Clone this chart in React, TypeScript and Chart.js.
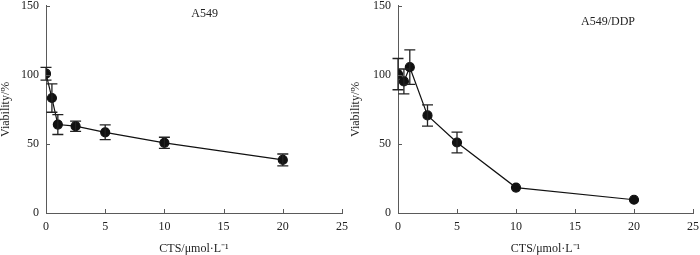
import React, { useEffect, useRef } from "react";
import { Chart, registerables } from "chart.js";

Chart.register(...registerables);

const concentrations = [0, 0.5, 1, 2.5, 5, 10, 20];
const a549Viability = [100.8, 83.2, 64, 62.8, 58.4, 50.8, 38.4];
const a549Error = [4.6, 10.3, 7.2, 3.7, 5.3, 4, 4.3];
const ddpViability = [100.5, 95.2, 105.5, 70.6, 51, 18.4, 9.6];
const ddpError = [11.3, 9, 12.5, 7.7, 7.5, 0, 0];
const xTitle = "CTS/μmol·L⁻¹";
const yTitle = "Viability/%";

const FONT = "'Liberation Serif', 'Times New Roman', serif";
const AXIS_COLOR = "#5a5a5a";
const TEXT_COLOR = "#222";

type PanelProps = {
  label: string;
  labelPos: { x: number; y: number };
  values: number[];
  errors: number[];
  padRight: number;
  yWidth: number;
};

function Panel({ label, labelPos, values, errors, padRight, yWidth }: PanelProps) {
  const ref = useRef<HTMLCanvasElement | null>(null);
  useEffect(() => {
    if (!ref.current) return;
    const errPlugin = {
      id: "errbars",
      afterDatasetsDraw(chart: any) {
        const { ctx, scales } = chart;
        const xs = scales.x;
        const ys = scales.y;
        ctx.save();
        ctx.strokeStyle = "#222";
        ctx.lineWidth = 1.3;
        values.forEach((v, i) => {
          const e = errors[i];
          if (!e) return;
          const px = xs.getPixelForValue(concentrations[i]);
          const pt = ys.getPixelForValue(v + e);
          const pb = ys.getPixelForValue(v - e);
          ctx.beginPath();
          ctx.moveTo(px, pt);
          ctx.lineTo(px, pb);
          ctx.moveTo(px - 5.5, pt);
          ctx.lineTo(px + 5.5, pt);
          ctx.moveTo(px - 5.5, pb);
          ctx.lineTo(px + 5.5, pb);
          ctx.stroke();
        });
        ctx.restore();
      },
      afterDraw(chart: any) {
        const { ctx, scales } = chart;
        const xs = scales.x;
        const ys = scales.y;
        ctx.save();
        ctx.strokeStyle = AXIS_COLOR;
        ctx.lineWidth = 1;
        const bottom = ys.getPixelForValue(0);
        const left = xs.getPixelForValue(0);
        xs.ticks.forEach((t: any) => {
          const p = Math.round(xs.getPixelForValue(t.value)) + 0.5;
          ctx.beginPath();
          ctx.moveTo(p, bottom);
          ctx.lineTo(p, bottom - 4);
          ctx.stroke();
        });
        ys.ticks.forEach((t: any) => {
          const p = Math.round(ys.getPixelForValue(t.value)) + 0.5;
          ctx.beginPath();
          ctx.moveTo(left, p);
          ctx.lineTo(left + 4, p);
          ctx.stroke();
        });
        ctx.fillStyle = TEXT_COLOR;
        ctx.font = `12px ${FONT}`;
        ctx.textAlign = "center";
        ctx.textBaseline = "middle";
        ctx.fillText(label, xs.getPixelForValue(labelPos.x), ys.getPixelForValue(labelPos.y));
        ctx.restore();
      },
    };
    const chart = new Chart(ref.current, {
      type: "scatter",
      data: {
        datasets: [
          {
            data: concentrations.map((x, i) => ({ x, y: values[i] })),
            showLine: true,
            borderColor: "#111",
            borderWidth: 1.2,
            backgroundColor: "#111",
            pointBackgroundColor: "#111",
            pointBorderColor: "#111",
            pointRadius: 4.5,
          },
        ],
      },
      options: {
        animation: false,
        responsive: false,
        maintainAspectRatio: false,
        layout: { padding: { left: 0, right: padRight, top: 5, bottom: 0 } },
        plugins: { legend: { display: false }, tooltip: { enabled: false }, title: { display: false } },
        scales: {
          x: {
            type: "linear",
            min: 0,
            max: 25,
            grid: { display: true, drawOnChartArea: false, drawTicks: false },
            border: { display: true, color: AXIS_COLOR, width: 1 },
            ticks: { stepSize: 5, padding: 7, color: TEXT_COLOR, font: { family: FONT, size: 12 } },
            title: {
              display: true,
              text: xTitle,
              color: TEXT_COLOR,
              font: { family: FONT, size: 12, lineHeight: 1 },
              padding: 0,
            },
            afterFit: (s: any) => {
              s.height = 42;
              s.paddingLeft = 0;
              s.paddingRight = 0;
            },
          },
          y: {
            type: "linear",
            min: 0,
            max: 150,
            grid: { display: true, drawOnChartArea: false, drawTicks: false },
            border: { display: true, color: AXIS_COLOR, width: 1 },
            ticks: { stepSize: 50, padding: 7, color: TEXT_COLOR, font: { family: FONT, size: 12 } },
            title: {
              display: true,
              text: yTitle,
              color: TEXT_COLOR,
              font: { family: FONT, size: 12, lineHeight: 1 },
              padding: 0,
            },
            afterFit: (s: any) => {
              s.width = yWidth;
              s.paddingTop = 0;
              s.paddingBottom = 0;
            },
          },
        },
      },
      plugins: [errPlugin],
    });
    return () => chart.destroy();
  }, []);
  return <canvas ref={ref} width={350} height={255} style={{ display: "block", width: 350, height: 255 }} />;
}

export default function App() {
  return (
    <div style={{ position: "fixed", left: 0, top: 0, width: 700, height: 255, background: "#fff", display: "flex" }}>
      <Panel label="A549" labelPos={{ x: 13.4, y: 144 }} values={a549Viability} errors={a549Error} padRight={8} yWidth={46} />
      <Panel label="A549/DDP" labelPos={{ x: 17.8, y: 138.5 }} values={ddpViability} errors={ddpError} padRight={7} yWidth={48} />
    </div>
  );
}
